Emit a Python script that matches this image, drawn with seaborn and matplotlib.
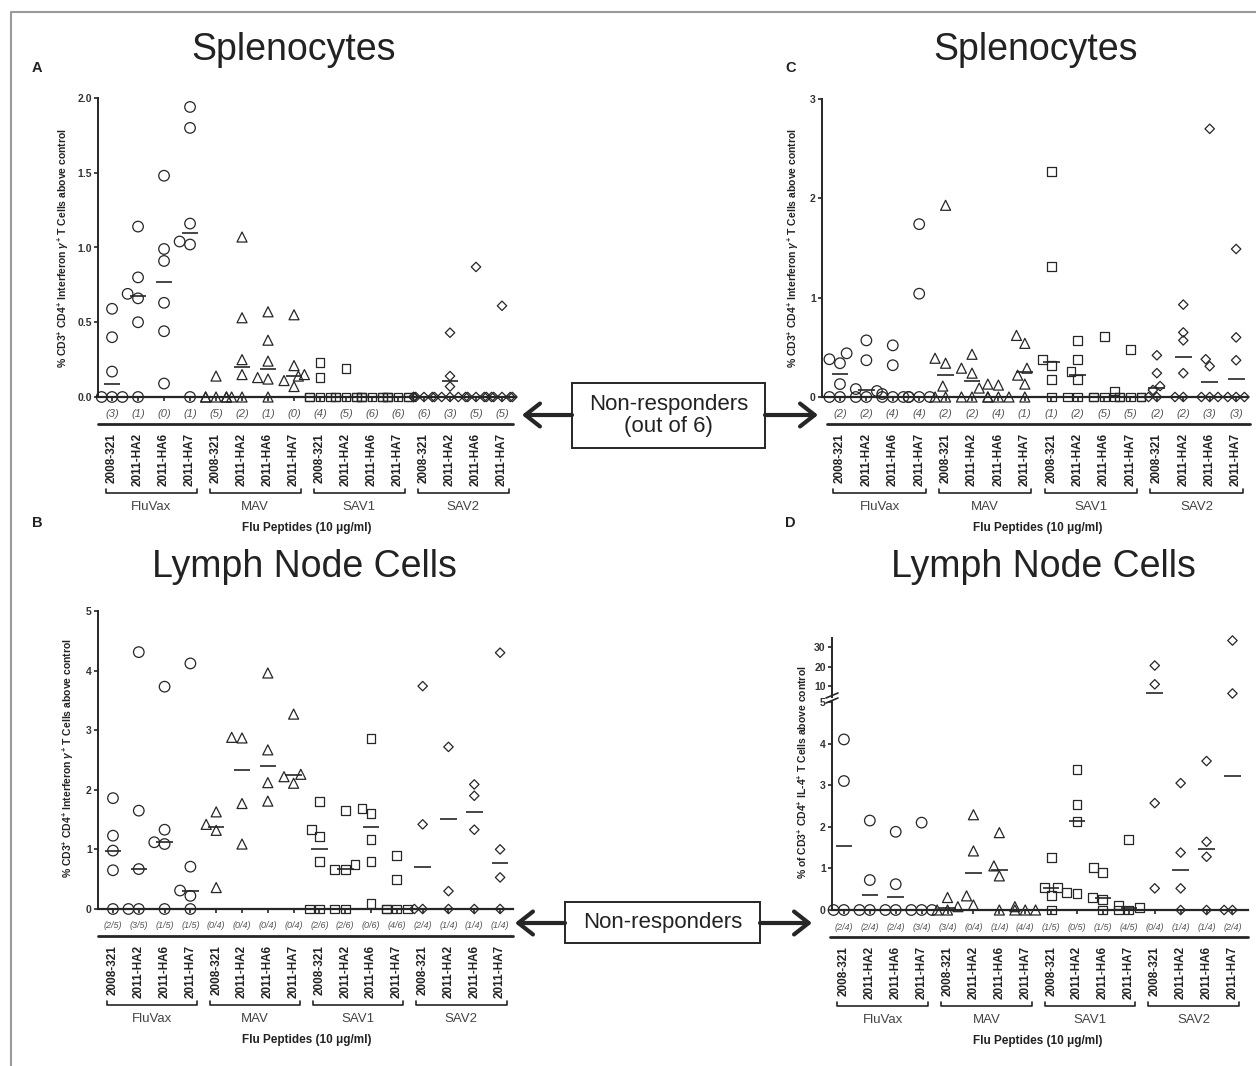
import warnings
import numpy as np
import pandas as pd
import matplotlib
matplotlib.use("Agg")
import matplotlib.pyplot as plt
import matplotlib.transforms as mtransforms
from matplotlib.lines import Line2D
from matplotlib.patches import Rectangle, FancyArrowPatch
import seaborn as sns

warnings.filterwarnings("ignore")

# ---------------- data ----------------
PEPTIDES = ["2008-321", "2011-HA2", "2011-HA6", "2011-HA7"]
GROUPS = ["FluVax", "MAV", "SAV1", "SAV2"]

# Panel A: splenocytes, IFN-gamma
A_FLUVAX = [[0.59, 0.40, 0.17, 0, 0, 0], [1.14, 0.80, 0.69, 0.66, 0.50, 0],
            [1.48, 0.99, 0.91, 0.63, 0.44, 0.09], [1.94, 1.80, 1.16, 1.04, 1.02, 0]]
A_MAV = [[0.14, 0, 0, 0, 0, 0], [1.07, 0.53, 0.25, 0.15, 0, 0],
         [0.57, 0.38, 0.24, 0.13, 0.12, 0], [0.55, 0.21, 0.15, 0.14, 0.11, 0.07]]
A_SAV1 = [[0.23, 0.13, 0, 0, 0, 0], [0.19, 0, 0, 0, 0, 0],
          [0, 0, 0, 0, 0, 0], [0, 0, 0, 0, 0, 0]]
A_SAV2 = [[0, 0, 0, 0, 0, 0], [0.43, 0.14, 0.07, 0, 0, 0],
          [0.87, 0, 0, 0, 0, 0], [0.61, 0, 0, 0, 0, 0]]
A_MEDIANS = [0.085, 0.675, 0.77, 1.10, 0, 0.20, 0.185, 0.14, 0, 0, 0, 0, 0, 0.105, 0, 0]
A_COUNTS = ["(3)", "(1)", "(0)", "(1)", "(5)", "(2)", "(1)", "(0)",
            "(4)", "(5)", "(6)", "(6)", "(6)", "(3)", "(5)", "(5)"]

# Panel C: splenocytes, IFN-gamma (second experiment)
C_FLUVAX = [[0.44, 0.38, 0.34, 0.13, 0, 0], [0.57, 0.37, 0.08, 0.06, 0, 0],
            [0.52, 0.32, 0.03, 0, 0, 0], [1.74, 1.04, 0, 0, 0, 0]]
C_MAV = [[1.93, 0.39, 0.34, 0.11, 0, 0], [0.43, 0.29, 0.24, 0.09, 0, 0],
         [0.13, 0.12, 0, 0, 0, 0], [0.62, 0.54, 0.29, 0.22, 0.13, 0]]
C_SAV1 = [[2.27, 1.31, 0.38, 0.32, 0.18, 0], [0.57, 0.38, 0.26, 0.18, 0, 0],
          [0.61, 0.06, 0, 0, 0, 0], [0.48, 0, 0, 0, 0, 0]]
C_SAV2 = [[0.42, 0.24, 0.11, 0.07, 0, 0], [0.93, 0.65, 0.57, 0.24, 0, 0],
          [2.70, 0.38, 0.31, 0, 0, 0], [1.49, 0.60, 0.37, 0, 0, 0]]
C_MEDIANS = [0.235, 0.07, 0, 0, 0.225, 0.165, 0, 0.255, 0.35, 0.22, 0, 0, 0.09, 0.405, 0.155, 0.185]
C_COUNTS = ["(2)", "(2)", "(4)", "(4)", "(2)", "(2)", "(4)", "(1)",
            "(1)", "(2)", "(5)", "(5)", "(2)", "(2)", "(3)", "(3)"]

# Panel B: lymph node cells, IFN-gamma
B_FLUVAX = [[1.86, 1.23, 0.98, 0.65, 0], [4.31, 1.65, 0.67, 0, 0],
            [3.73, 1.33, 1.12, 1.09, 0], [4.12, 0.71, 0.31, 0.22, 0]]
B_MAV = [[1.63, 1.42, 1.32, 0.36], [2.88, 2.87, 1.77, 1.09],
         [3.96, 2.67, 2.12, 1.81], [3.27, 2.26, 2.22, 2.11]]
B_SAV1 = [[1.81, 1.33, 1.22, 0.79, 0, 0], [1.65, 0.74, 0.67, 0.67, 0, 0],
          [2.86, 1.69, 1.60, 1.16, 0.79, 0.09], [0.90, 0.50, 0, 0, 0, 0]]
B_SAV2 = [[3.74, 1.42, 0, 0], [2.72, 0.30, 0],
          [2.09, 1.90, 1.33, 0], [4.30, 1.00, 0.53, 0]]
B_MEDIANS = [0.98, 0.67, 1.12, 0.31, 1.37, 2.33, 2.40, 2.24, 1.00, 0.67, 1.37, 0, 0.71, 1.51, 1.62, 0.77]
B_COUNTS = ["(2/5)", "(3/5)", "(1/5)", "(1/5)", "(0/4)", "(0/4)", "(0/4)", "(0/4)",
            "(2/6)", "(2/6)", "(0/6)", "(4/6)", "(2/4)", "(1/4)", "(1/4)", "(1/4)"]

# Panel D: lymph node cells, IL-4
D_FLUVAX = [[4.10, 3.10, 0, 0], [2.15, 0.72, 0, 0], [1.88, 0.62, 0, 0], [2.10, 0, 0, 0]]
D_MAV = [[0.30, 0.08, 0, 0], [2.29, 1.42, 0.34, 0.12], [1.86, 1.06, 0.82, 0], [0.08, 0, 0, 0]]
D_SAV1 = [[1.27, 0.55, 0.54, 0.35, 0], [3.37, 2.54, 2.13, 0.41, 0.40],
          [1.03, 0.91, 0.30, 0.26, 0], [1.70, 0.12, 0.06, 0, 0]]
D_SAV2 = [[20.5, 10.9, 2.57, 0.52], [3.05, 1.38, 0.52, 0], [3.58, 1.64, 1.28, 0], [33.3, 6.2, 0, 0]]
D_MEDIANS = [1.55, 0.36, 0.31, 0, 0.04, 0.90, 0.97, 0, 0.54, 2.13, 0.30, 0.06, 6.7, 0.96, 1.46, 3.22]
D_COUNTS = ["(2/4)", "(2/4)", "(2/4)", "(3/4)", "(3/4)", "(0/4)", "(1/4)", "(4/4)",
            "(1/5)", "(0/5)", "(1/5)", "(4/5)", "(0/4)", "(1/4)", "(1/4)", "(2/4)"]

YLAB_IFN = r"% CD3$^{+}$ CD4$^{+}$ Interferon $\gamma^{+}$ T Cells above control"
YLAB_IL4 = r"% of CD3$^{+}$ CD4$^{+}$ IL-4$^{+}$ T Cells above control"
XLAB = "Flu Peptides (10 \u03bcg/ml)"

# ---------------- style ----------------
sns.set_style("ticks")
plt.rcParams["font.family"] = ["Liberation Sans", "DejaVu Sans"]
plt.rcParams["mathtext.fontset"] = "custom"
plt.rcParams["mathtext.rm"] = "Liberation Sans:bold"
plt.rcParams["mathtext.it"] = "Liberation Sans:bold:italic"
plt.rcParams["mathtext.bf"] = "Liberation Sans:bold"

INK = "#262626"
MARKERS = {"FluVax": "o", "MAV": "^", "SAV1": "s", "SAV2": "D"}
MSIZE = {"FluVax": 7.6, "MAV": 7.2, "SAV1": 6.4, "SAV2": 4.8}

W, H = 1256, 1066
fig = plt.figure(figsize=(W / 100, H / 100), dpi=100)
fig.patch.set_facecolor("white")


def fx(px):
    return px / W


def fy(py):
    return 1 - py / H


def add_axes(x0, x1, y0, y1):
    return fig.add_axes([fx(x0), fy(y1), (x1 - x0) / W, (y1 - y0) / H])


CATS = [f"{g} {p}" for g in GROUPS for p in PEPTIDES]


def scatter_groups(ax, data, lo, hi):
    for g in GROUPS:
        rows = [(f"{g} {p}", v) for p, vals in zip(PEPTIDES, data[g])
                for v in vals if lo <= v <= hi]
        if not rows:
            continue
        df = pd.DataFrame(rows, columns=["cat", "val"])
        n0 = len(ax.collections)
        sns.swarmplot(data=df, x="cat", y="val", order=CATS, marker=MARKERS[g],
                      size=MSIZE[g], color=INK, facecolor="none", edgecolor=INK,
                      linewidth=0.9, ax=ax, zorder=4, warn_thresh=1)
        for c in ax.collections[n0:]:
            if len(c.get_offsets()) == 0:
                # empty helper collection: keep it clipped and hidden
                c.set_visible(False)
                continue
            c.set_facecolor("none")
            c.set_edgecolor(INK)
            c.set_linewidth(0.9)
            c.set_clip_on(False)


def medians(ax, meds, lo, hi):
    for i, m in enumerate(meds):
        if lo <= m <= hi:
            ax.hlines(m, i - 0.32, i + 0.32, color=INK, lw=1.2, zorder=5)


def style_axis(ax, xlim, ylim, yticks, ylabels, bottom=True):
    ax.set_xlim(*xlim)
    ax.set_ylim(*ylim)
    for s in ["top", "right"]:
        ax.spines[s].set_visible(False)
    ax.spines["left"].set_linewidth(1.4)
    ax.spines["left"].set_color(INK)
    ax.spines["bottom"].set_linewidth(1.6)
    ax.spines["bottom"].set_color(INK)
    ax.set_facecolor("none")
    ax.set_yticks(yticks)
    ax.set_yticklabels(ylabels, fontsize=7.5, fontweight="bold", color="#333333")
    ax.tick_params(axis="y", length=3, width=1.2, pad=1.5, color=INK)
    ax.set_xlabel("")
    ax.set_ylabel("")
    if bottom:
        ax.set_xticks(range(16))
        ax.set_xticklabels(PEPTIDES * 4, rotation=90, fontsize=8.5,
                           fontweight="bold", color="#222222")
        ax.tick_params(axis="x", length=3, width=1.2, pad=23, color=INK)
    else:
        ax.spines["bottom"].set_visible(False)
        ax.tick_params(axis="x", bottom=False, labelbottom=False)


def below_axis(ax, yb, sep, counts, count_fs):
    trans = mtransforms.blended_transform_factory(ax.transData, fig.transFigure)
    for i, s in enumerate(counts):
        ax.text(i, fy(yb + 17), s, transform=trans, ha="center", va="center",
                fontsize=count_fs, style="italic", color="#555555", clip_on=False)
    fig.add_artist(Line2D([fx(sep[0]), fx(sep[1])], [fy(yb + 27), fy(yb + 27)],
                          transform=fig.transFigure, lw=2.0, color=INK))
    for gi, g in enumerate(GROUPS):
        a, b = gi * 4 - 0.25, gi * 4 + 3.25
        ax.add_line(Line2D([a, a, b, b], [fy(yb + 92), fy(yb + 96), fy(yb + 96), fy(yb + 92)],
                           transform=trans, lw=1.2, color=INK, clip_on=False))
        ax.text(gi * 4 + 1.5, fy(yb + 110), g, transform=trans, ha="center", va="center",
                fontsize=9.5, color="#444444", clip_on=False)
    ax.text(7.5, fy(yb + 131), XLAB, transform=trans, ha="center", va="center",
            fontsize=8.5, fontweight="bold", color="#222222", clip_on=False)


def panel(box, data, meds, counts, xlim, ylim, yticks, ylabels, sep, count_fs,
          ylab, ylab_x, ylab_y):
    x0, x1, y0, y1 = box
    ax = add_axes(x0, x1, y0, y1)
    scatter_groups(ax, data, ylim[0], ylim[1])
    medians(ax, meds, ylim[0], ylim[1])
    style_axis(ax, xlim, ylim, yticks, ylabels)
    below_axis(ax, y1, sep, counts, count_fs)
    fig.text(fx(ylab_x), fy(ylab_y), ylab, rotation=90, ha="center", va="center",
             fontsize=7.5, fontweight="bold", color="#222222")
    return ax


A = {"FluVax": A_FLUVAX, "MAV": A_MAV, "SAV1": A_SAV1, "SAV2": A_SAV2}
B = {"FluVax": B_FLUVAX, "MAV": B_MAV, "SAV1": B_SAV1, "SAV2": B_SAV2}
C = {"FluVax": C_FLUVAX, "MAV": C_MAV, "SAV1": C_SAV1, "SAV2": C_SAV2}
D = {"FluVax": D_FLUVAX, "MAV": D_MAV, "SAV1": D_SAV1, "SAV2": D_SAV2}

panel((98, 515, 98, 397), A, A_MEDIANS, A_COUNTS, (-0.54, 15.5), (0, 2.0),
      [0, 0.5, 1.0, 1.5, 2.0], ["0.0", "0.5", "1.0", "1.5", "2.0"], (98, 513), 8,
      YLAB_IFN, 63, 248)
panel((822, 1248, 99, 397), C, C_MEDIANS, C_COUNTS, (-0.68, 15.45), (0, 3),
      [0, 1, 2, 3], ["0", "1", "2", "3"], (827, 1250), 8, YLAB_IFN, 793, 248)
panel((98, 513, 611, 909), B, B_MEDIANS, B_COUNTS, (-0.58, 15.5), (0, 5),
      [0, 1, 2, 3, 4, 5], ["0", "1", "2", "3", "4", "5"], (98, 513), 6.5,
      YLAB_IFN, 68, 758)
axD = panel((832, 1248, 702, 910), D, D_MEDIANS, D_COUNTS, (-0.46, 15.6), (0, 5),
            [0, 1, 2, 3, 4, 5], ["0", "1", "2", "3", "4", "5"], (830, 1248), 6.5,
            YLAB_IL4, 802, 772)
# broken upper segment of panel D
axDu = add_axes(832, 1248, 638, 697)
scatter_groups(axDu, D, 5.0001, 40)
medians(axDu, D_MEDIANS, 5.0001, 40)
style_axis(axDu, (-0.46, 15.6), (4.4, 34.6), [10, 20, 30], ["10", "20", "30"], bottom=False)
for yy in (695, 700):
    fig.add_artist(Line2D([fx(826), fx(838)], [fy(yy + 3), fy(yy - 2)],
                          transform=fig.transFigure, lw=1.2, color=INK))

# titles and panel letters
for x, y, t in [(294, 60, "Splenocytes"), (1036, 60, "Splenocytes"),
                (304, 577, "Lymph Node Cells"), (1043, 577, "Lymph Node Cells")]:
    fig.text(fx(x), fy(y), t, ha="center", va="baseline", fontsize=27, color="#222222")
for x, y, t in [(32, 72, "A"), (32, 527, "B"), (785, 72, "C"), (785, 527, "D")]:
    fig.text(fx(x), fy(y), t, ha="left", va="baseline", fontsize=10.5,
             fontweight="bold", color="#222222")


# non-responder boxes and arrows
def box_arrows(bx0, bx1, by0, by1, ay, lt, rt, text):
    fig.add_artist(Rectangle((fx(bx0), fy(by1)), (bx1 - bx0) / W, (by1 - by0) / H,
                             transform=fig.transFigure, facecolor="white",
                             edgecolor=INK, lw=1.4))
    fig.text(fx((bx0 + bx1) / 2), fy((by0 + by1) / 2), text, ha="center", va="center",
             fontsize=16, color="#222222", linespacing=1.05)
    for a, b in [((bx0, ay), (lt, ay)), ((bx1, ay), (rt, ay))]:
        fig.add_artist(FancyArrowPatch((fx(a[0]), fy(a[1])), (fx(b[0]), fy(b[1])),
                                       transform=fig.transFigure,
                                       arrowstyle="->,head_length=0.7,head_width=0.55",
                                       mutation_scale=15, lw=3, color=INK,
                                       shrinkA=0, shrinkB=0))


box_arrows(572, 765, 383, 448, 415, 522, 818, "Non-responders\n(out of 6)")
box_arrows(565, 760, 902, 943, 923, 515, 812, "Non-responders")

# scan frame
fig.add_artist(Line2D([fx(11), fx(11), fx(1256)], [fy(1066), fy(12), fy(12)],
                      transform=fig.transFigure, lw=1.5, color="#9a9a9a"))

fig.savefig("out.png", dpi=100, facecolor="white")
